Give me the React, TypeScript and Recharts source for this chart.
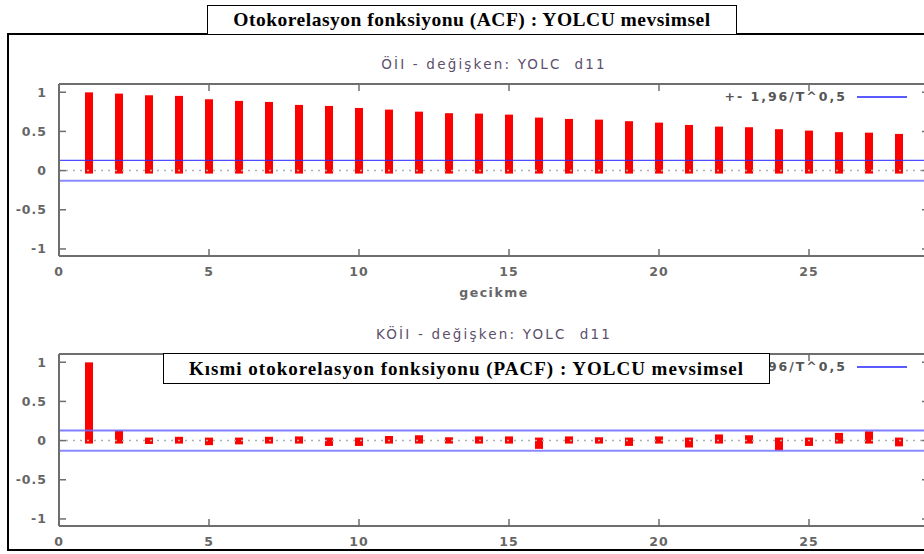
import React from 'react';
import { ComposedChart, Bar, XAxis, YAxis, ReferenceLine } from 'recharts';

// Lags 1..28
const lags = [1, 2, 3, 4, 5, 6, 7, 8, 9, 10, 11, 12, 13, 14, 15, 16, 17, 18, 19, 20, 21, 22, 23, 24, 25, 26, 27, 28];

// Autocorrelation values
const acfValues = [
  0.96, 0.944, 0.923, 0.915, 0.872, 0.851, 0.838, 0.8, 0.787, 0.761, 0.74, 0.714, 0.694, 0.689,
  0.676, 0.638, 0.621, 0.612, 0.592, 0.574, 0.544, 0.523, 0.515, 0.49, 0.472, 0.452, 0.446, 0.43,
];

// Partial autocorrelation values
const pacfValues = [
  0.96, 0.09, -0.005, 0.01, -0.02, -0.01, 0.01, 0.015, -0.03, -0.03, 0.02, 0.03, 0.004, 0.015,
  0.015, -0.067, 0.015, 0.004, -0.03, 0.015, -0.05, 0.04, 0.03, -0.09, -0.03, 0.06, 0.08, -0.035,
];

const xTicks = [0, 5, 10, 15, 20, 25];
const yTicks = [-1, -0.5, 0, 0.5, 1];
const confidenceBand = 0.13;

const acfHeading = 'Otokorelasyon fonksiyonu (ACF) : YOLCU mevsimsel';
const pacfHeading = 'Kısmi otokorelasyon fonksiyonu (PACF) : YOLCU mevsimsel';
const acfPlotTitle = 'ÖİI - değişken: YOLC\u00a0 d11';
const pacfPlotTitle = 'KÖİI - değişken: YOLC\u00a0 d11';
const xAxisLabel = 'gecikme';
const legendLabel = '+- 1,96/T^0,5';

const acfData = lags.map((lag, i) => ({ lag, value: acfValues[i] }));
const pacfData = lags.map((lag, i) => ({ lag, value: pacfValues[i] }));

// layout of each plot panel
const CHART_W = 940;
const CHART_H = 300;
const PLOT = { left: 59, right: 929, top: 84, bottom: 256 };
const FRAME = '#6e6e6e';
const TEXT = '#666';
const FONT = 'DejaVu Sans, Verdana, sans-serif';
const TICK_LEN = 7;
const SPIKE_W = 8;
const SPIKE_EXT = 3;
const Y_DOMAIN: [number, number] = [-1.09, 1.105];
const X_DOMAIN: [number, number] = [0, 29];

const fmt = (v: number) => String(v);

function LeftTick(props: any) {
  const { y, payload } = props;
  return (
    <g>
      <line x1={PLOT.left} x2={PLOT.left + TICK_LEN} y1={y} y2={y} stroke={FRAME} strokeWidth={1.5} />
      <text x={PLOT.left - 12} y={y} dy="0.35em" textAnchor="end" fontFamily={FONT} fontSize={12.5} fontWeight="bold" fill={TEXT} letterSpacing={1}>
        {fmt(payload.value)}
      </text>
    </g>
  );
}

function RightTick(props: any) {
  const { y } = props;
  return <line x1={PLOT.right - TICK_LEN} x2={PLOT.right} y1={y} y2={y} stroke={FRAME} strokeWidth={1.5} />;
}

function BottomTick(props: any) {
  const { x, payload } = props;
  return (
    <g>
      <line x1={x} x2={x} y1={PLOT.bottom} y2={PLOT.bottom - TICK_LEN} stroke={FRAME} strokeWidth={1.5} />
      <text x={x} y={PLOT.bottom + 16} dy="0.35em" textAnchor="middle" fontFamily={FONT} fontSize={12.5} fontWeight="bold" fill={TEXT} letterSpacing={1}>
        {fmt(payload.value)}
      </text>
    </g>
  );
}

function TopTick(props: any) {
  const { x } = props;
  return <line x1={x} x2={x} y1={PLOT.top} y2={PLOT.top + TICK_LEN} stroke={FRAME} strokeWidth={1.5} />;
}

// impulse-style spike, slightly overshooting both ends like a thick line
function Spike(props: any) {
  const { x, y, width, height } = props;
  if (x == null || y == null) return null;
  const cx = x + width / 2;
  const top = Math.min(y, y + height) - SPIKE_EXT;
  const bottom = Math.max(y, y + height) + SPIKE_EXT;
  return <rect x={cx - SPIKE_W / 2} y={top} width={SPIKE_W} height={bottom - top} fill="#ff0000" />;
}

const NoShape = () => null;

function BandLegend() {
  return (
    <svg width={220} height={18} style={{ position: 'absolute', left: 700, top: 88 }}>
      <text x={147} y={9} dy="0.35em" textAnchor="end" fontFamily={FONT} fontSize={12.5} fontWeight="bold" fill="#555" letterSpacing={2}>
        {legendLabel}
      </text>
      <line x1={157} x2={207} y1={9} y2={9} stroke="#5a5aff" strokeWidth={2} />
    </svg>
  );
}

function CorrPanel(props: { data: any[]; title: string; showXLabel: boolean; upperStroke: string; upperWidth: number }) {
  const { data, title, showXLabel, upperStroke, upperWidth } = props;
  return (
    <div style={{ position: 'relative', width: CHART_W, height: CHART_H }}>
      <ComposedChart
        width={CHART_W}
        height={CHART_H}
        data={data}
        margin={{ top: PLOT.top - 1, right: CHART_W - PLOT.right - 1, bottom: CHART_H - PLOT.bottom - 30, left: 0 }}
      >
        <XAxis
          xAxisId="b"
          dataKey="lag"
          type="number"
          domain={X_DOMAIN}
          ticks={xTicks}
          height={30}
          axisLine={{ stroke: FRAME, strokeWidth: 2 }}
          tickLine={false}
          tick={<BottomTick />}
          interval={0}
          label={
            showXLabel
              ? { value: xAxisLabel, position: 'bottom', offset: 2, fontFamily: FONT, fontSize: 12.5, fontWeight: 'bold', fill: TEXT, letterSpacing: 1.5 }
              : undefined
          }
        />
        <XAxis
          xAxisId="t"
          dataKey="lag"
          orientation="top"
          type="number"
          domain={X_DOMAIN}
          ticks={xTicks}
          height={1}
          axisLine={{ stroke: FRAME, strokeWidth: 2 }}
          tickLine={false}
          tick={<TopTick />}
          interval={0}
          label={{ value: title, position: 'top', offset: 14, fontFamily: FONT, fontSize: 13.5, fill: '#5c4f6c', letterSpacing: 2.2 }}
        />
        <YAxis
          yAxisId="l"
          type="number"
          domain={Y_DOMAIN}
          ticks={yTicks}
          width={PLOT.left}
          axisLine={{ stroke: FRAME, strokeWidth: 2 }}
          tickLine={false}
          tick={<LeftTick />}
          interval={0}
        />
        <YAxis
          yAxisId="r"
          orientation="right"
          type="number"
          domain={Y_DOMAIN}
          ticks={yTicks}
          width={1}
          axisLine={{ stroke: FRAME, strokeWidth: 2 }}
          tickLine={false}
          tick={<RightTick />}
          interval={0}
        />
        <ReferenceLine xAxisId="b" yAxisId="l" y={0} stroke="#b0b0b0" strokeWidth={1.5} strokeDasharray="2 5" />
        <Bar xAxisId="b" yAxisId="l" dataKey="value" barSize={SPIKE_W} shape={<Spike />} isAnimationActive={false} />
        {/* binds the mirrored top/right frame axes to the same series */}
        <Bar xAxisId="t" yAxisId="r" dataKey="value" barSize={SPIKE_W} shape={<NoShape />} isAnimationActive={false} />
        <ReferenceLine xAxisId="b" yAxisId="l" y={confidenceBand} stroke={upperStroke} strokeWidth={upperWidth} strokeOpacity={0.85} />
        <ReferenceLine xAxisId="b" yAxisId="l" y={-confidenceBand} stroke="#7676ff" strokeWidth={2} strokeOpacity={0.85} />
      </ComposedChart>
      <BandLegend />
    </div>
  );
}

const headingStyle: React.CSSProperties = {
  position: 'absolute',
  border: '1px solid #000',
  background: '#fff',
  fontFamily: 'Liberation Serif, Times New Roman, serif',
  fontWeight: 'bold',
  color: '#000',
  display: 'flex',
  alignItems: 'center',
  justifyContent: 'center',
  boxSizing: 'border-box',
  whiteSpace: 'nowrap',
  zIndex: 3,
};

export default function App() {
  return (
    <div style={{ position: 'fixed', left: 0, top: 0, width: 924, height: 554, overflow: 'hidden', background: '#fff' }}>
      <div
        style={{
          position: 'absolute',
          left: 7,
          top: 33,
          width: 960,
          height: 518,
          border: '2px solid #000',
          boxSizing: 'border-box',
        }}
      />
      <div style={{ position: 'absolute', left: 0, top: 0, zIndex: 1 }}>
        <CorrPanel data={acfData} title={acfPlotTitle} showXLabel upperStroke="#2e2eff" upperWidth={1.3} />
      </div>
      <div style={{ position: 'absolute', left: 0, top: 270, zIndex: 2 }}>
        <CorrPanel data={pacfData} title={pacfPlotTitle} showXLabel={false} upperStroke="#6a6aff" upperWidth={2} />
      </div>
      <div style={{ ...headingStyle, left: 207, top: 5, width: 530, height: 30, fontSize: 19.5, letterSpacing: 0.5 }}>{acfHeading}</div>
      <div style={{ ...headingStyle, left: 163, top: 353, width: 607, height: 31, fontSize: 19, letterSpacing: 1 }}>{pacfHeading}</div>
    </div>
  );
}
